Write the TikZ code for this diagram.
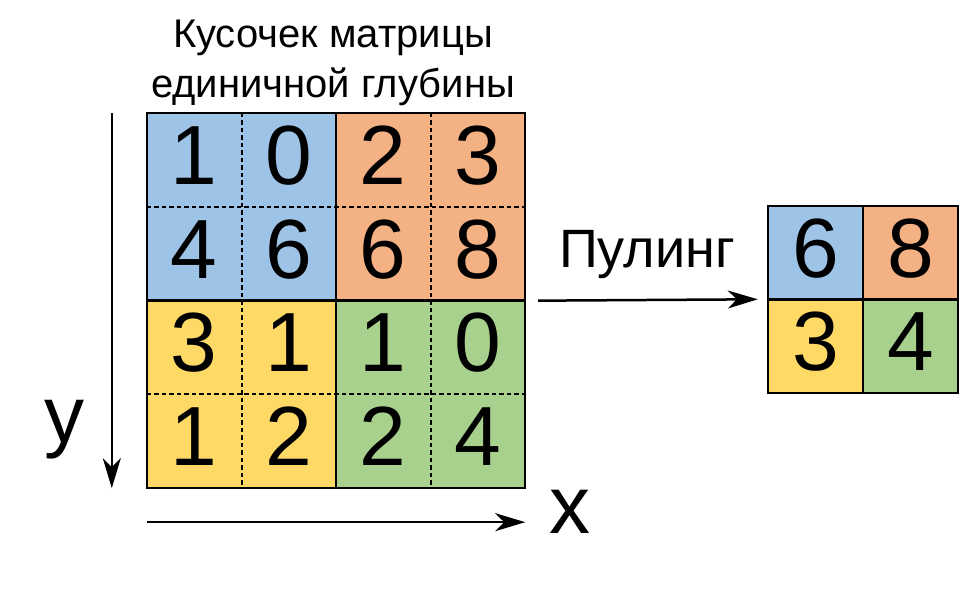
\documentclass[tikz,border=0pt]{standalone}
\usepackage{fontspec}
\setmainfont{Liberation Sans}
\usetikzlibrary{arrows.meta,positioning}
\definecolor{cblue}{HTML}{9DC3E6}
\definecolor{corange}{HTML}{F4B183}
\definecolor{cyellow}{HTML}{FFD966}
\definecolor{cgreen}{HTML}{A9D18E}

\begin{document}
\begin{tikzpicture}[y=-1pt,x=1pt,
	cell/.style={minimum width=94.5pt,minimum height=93.75pt,inner sep=0pt,text height=61pt,text depth=12pt,font=\fontsize{84}{84}\selectfont},
	pcell/.style={cell,minimum width=95pt,minimum height=93.5pt},
	edge/.style={line width=2.5pt},
	dashline/.style={line width=2pt,dash pattern=on 4.5pt off 3pt},
	arrow/.style={line width=2.5pt,-{Stealth[length=30pt,width=18pt,inset=9pt]}}]
	\useasboundingbox (0,0) rectangle (978,597);

	\node[cell,fill=cblue] (m11) at (194.25,159.9) {1};
	\node[cell,fill=cblue] (m12) at (288.75,159.9) {0};
	\node[cell,fill=corange] (m13) at (383.25,159.9) {2};
	\node[cell,fill=corange] (m14) at (477.75,159.9) {3};
	\node[cell,fill=cblue] (m21) at (194.25,253.6) {4};
	\node[cell,fill=cblue] (m22) at (288.75,253.6) {6};
	\node[cell,fill=corange] (m23) at (383.25,253.6) {6};
	\node[cell,fill=corange] (m24) at (477.75,253.6) {8};
	\node[cell,fill=cyellow] (m31) at (194.25,347.4) {3};
	\node[cell,fill=cyellow] (m32) at (288.75,347.4) {1};
	\node[cell,fill=cgreen] (m33) at (383.25,347.4) {1};
	\node[cell,fill=cgreen] (m34) at (477.75,347.4) {0};
	\node[cell,fill=cyellow] (m41) at (194.25,441.1) {1};
	\node[cell,fill=cyellow] (m42) at (288.75,441.1) {2};
	\node[cell,fill=cgreen] (m43) at (383.25,441.1) {2};
	\node[cell,fill=cgreen] (m44) at (477.75,441.1) {4};

	\draw[dashline] (m11.north east) -- (m41.south east);
	\draw[dashline] (m13.north east) -- (m43.south east);
	\draw[dashline] (m11.south west) -- (m14.south east);
	\draw[dashline] (m31.south west) -- (m34.south east);
	\draw[edge] (m11.north west) rectangle (m44.south east);
	\draw[edge] (m12.north east) -- (m42.south east);
	\draw[edge] (m21.south west) -- (m24.south east);

	\node[anchor=north,inner sep=0pt,align=center,font=\fontsize{40}{50}\selectfont] (title) at (333,19.4) {Кусочек матрицы\\единичной глубины};

	\node[pcell,fill=cblue] (p11) at (815.5,252.75) {6};
	\node[pcell,fill=corange] (p12) at (910.5,252.75) {8};
	\node[pcell,fill=cyellow] (p21) at (815.5,346.25) {3};
	\node[pcell,fill=cgreen] (p22) at (910.5,346.25) {4};
	\draw[edge] (p11.north west) rectangle (p22.south east);
	\draw[edge] (p11.north east) -- (p21.south east);
	\draw[edge] (p11.south west) -- (p12.south east);

	\draw[arrow] ([xshift=13pt]m24.south east) -- ([xshift=-10pt]p21.north west);
	\node[anchor=base,inner sep=0pt,font=\fontsize{54}{54}\selectfont] (pool) at (647,267) {Пулинг};

	\draw[arrow] ([xshift=-35pt]m11.north west) -- ([xshift=-35pt]m41.south west);
	\draw[arrow] ([yshift=-34pt]m41.south west) -- ([yshift=-34pt]m44.south east);
	\node[anchor=base,inner sep=0pt,font=\fontsize{80}{80}\selectfont] (ylabel) at (64,442) {y};
	\node[anchor=base,inner sep=0pt,font=\fontsize{82}{82}\selectfont] (xlabel) at (570,533) {x};
\end{tikzpicture}
\end{document}
